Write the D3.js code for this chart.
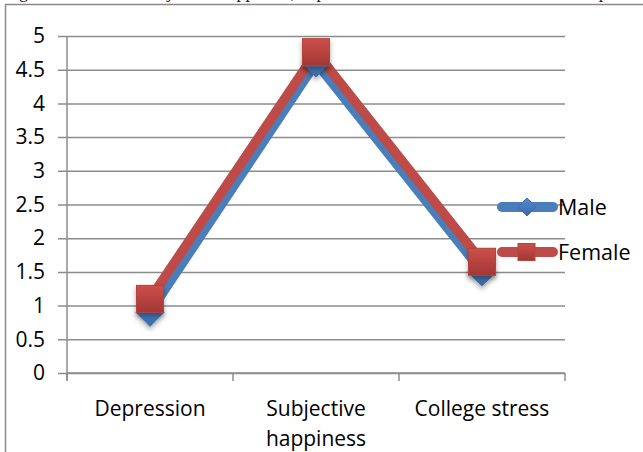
<!DOCTYPE html>
<html>
<head>
<meta charset="utf-8">
<script src="https://cdn.jsdelivr.net/npm/d3@7"></script>
<style>
  html, body { margin: 0; padding: 0; background: #fff; }
  svg { display: block; font-family: "Open Sans", "Noto Sans", sans-serif; }
</style>
</head>
<body>
<div id="chart"></div>
<script>
// data
const categories = ["Depression", "Subjective happiness", "College stress"];
const maleValues = [0.9, 4.6, 1.5];
const femaleValues = [1.1, 4.76, 1.65];
const seriesNames = ["Male", "Female"];
const yTicks = [0, 0.5, 1, 1.5, 2, 2.5, 3, 3.5, 4, 4.5, 5];
const captionText = "Figure 2: Mean of Subjective happiness, depression and stress of male and female p";

const W = 643, H = 452;
const plot = { left: 67, right: 565, top: 36, bottom: 373 };
const blue = "#4a7ebb", red = "#be4b48", grid = "#8c8c8c";

const svg = d3.select("#chart").append("svg").attr("width", W).attr("height", H);

// gradients + shadow for markers
const defs = svg.append("defs");
const gRed = defs.append("linearGradient").attr("id", "gRed").attr("x1", 0).attr("y1", 0).attr("x2", 0).attr("y2", 1);
gRed.append("stop").attr("offset", "0%").attr("stop-color", "#cd4f4b");
gRed.append("stop").attr("offset", "100%").attr("stop-color", "#a23734");
const gBlue = defs.append("linearGradient").attr("id", "gBlue").attr("x1", 0).attr("y1", 0).attr("x2", 0).attr("y2", 1);
gBlue.append("stop").attr("offset", "0%").attr("stop-color", "#5189cf");
gBlue.append("stop").attr("offset", "100%").attr("stop-color", "#3a6aa8");
const sh = defs.append("filter").attr("id", "shadow").attr("x", "-50%").attr("y", "-50%").attr("width", "200%").attr("height", "200%");
sh.append("feDropShadow").attr("dx", 0).attr("dy", 3).attr("stdDeviation", 2.5).attr("flood-color", "#000").attr("flood-opacity", 0.35);

// outer frame (cropped figure)
svg.append("line").attr("x1", 5).attr("x2", W).attr("y1", 4.5).attr("y2", 4.5).attr("stroke", "#8a8a8a").attr("stroke-width", 1.5);
svg.append("line").attr("x1", 5.5).attr("x2", 5.5).attr("y1", 4).attr("y2", H).attr("stroke", "#8a8a8a").attr("stroke-width", 1.5);
// caption above the frame: the page crop leaves only its descenders
svg.append("text").attr("x", 4).attr("y", -2).attr("font-size", 18).attr("font-family", "Liberation Serif, serif")
  .attr("fill", "#222").text(captionText);

const x = d3.scaleBand().domain(categories).range([plot.left, plot.right]).padding(0);
const y = d3.scaleLinear().domain([0, 5]).range([plot.bottom, plot.top]);

// gridlines + left ticks
svg.append("g")
  .attr("transform", `translate(${plot.right},0)`)
  .call(d3.axisLeft(y).tickValues(yTicks).tickSize(plot.right - plot.left + 9).tickFormat(""))
  .call(g => g.select(".domain").remove())
  .call(g => g.selectAll(".tick line").attr("stroke", grid).attr("stroke-width", 1.5));

// y labels
svg.append("g")
  .attr("transform", `translate(${plot.left},0)`)
  .call(d3.axisLeft(y).tickValues(yTicks).tickSize(0).tickPadding(22).tickFormat(d3.format("")))
  .call(g => g.select(".domain").remove())
  .call(g => g.selectAll("text").attr("font-size", 21).attr("fill", "#000").attr("font-family", "Open Sans, sans-serif"));

// y axis line
svg.append("line").attr("x1", plot.left).attr("x2", plot.left).attr("y1", y(5)).attr("y2", plot.bottom + 8)
  .attr("stroke", grid).attr("stroke-width", 1.5);

// x axis
const xa = svg.append("g")
  .attr("transform", `translate(0,${plot.bottom})`)
  .call(d3.axisBottom(x).tickSize(0).tickPadding(24).tickFormat(""))
  .call(g => g.select(".domain").attr("stroke", grid).attr("stroke-width", 1.5).attr("d", `M${plot.left},0H${plot.right}`));
const bounds = categories.map(c => x(c)).concat([x(categories[categories.length - 1]) + x.bandwidth()]);
xa.selectAll(".btick").data(bounds).enter().append("line")
  .attr("x1", d => d).attr("x2", d => d).attr("y1", 0).attr("y2", 8)
  .attr("stroke", grid).attr("stroke-width", 1.5);

// category labels, wrapped
const catLines = { "Subjective happiness": ["Subjective", "happiness"] };
categories.forEach(c => {
  const lines = catLines[c] || [c];
  const t = svg.append("text").attr("x", x(c) + x.bandwidth() / 2).attr("y", 416)
    .attr("text-anchor", "middle").attr("font-size", 21).attr("fill", "#000");
  lines.forEach((l, i) => t.append("tspan").attr("x", x(c) + x.bandwidth() / 2).attr("dy", i ? 30 : 0).text(l));
});

const cx = c => x(c) + x.bandwidth() / 2;
const line = d3.line().x((d, i) => cx(categories[i])).y(d => y(d));

// male series
svg.append("path").datum(maleValues).attr("d", line).attr("fill", "none")
  .attr("stroke", blue).attr("stroke-width", 9).attr("stroke-linejoin", "round");
// female series
svg.append("path").datum(femaleValues).attr("d", line).attr("fill", "none")
  .attr("stroke", red).attr("stroke-width", 9.5).attr("stroke-linejoin", "round");

const diamond = (px, py, r) => `M${px},${py - r}L${px + r},${py}L${px},${py + r}L${px - r},${py}Z`;

svg.append("g").selectAll("path").data(maleValues).enter().append("path")
  .attr("d", (d, i) => diamond(cx(categories[i]), y(d), 14))
  .attr("fill", "url(#gBlue)").attr("stroke", "#3f6fae").attr("stroke-width", 1)
  .attr("filter", "url(#shadow)");

svg.append("g").selectAll("rect").data(femaleValues).enter().append("rect")
  .attr("x", (d, i) => cx(categories[i]) - 13.5).attr("y", d => y(d) - 13.5)
  .attr("width", 27).attr("height", 27)
  .attr("fill", "url(#gRed)").attr("stroke", "#b04441").attr("stroke-width", 1)
  .attr("filter", "url(#shadow)");

// legend
const legendY = [207, 252];
const legendColors = [blue, red];
seriesNames.forEach((name, i) => {
  const ly = legendY[i];
  svg.append("line").attr("x1", 502).attr("x2", 553).attr("y1", ly).attr("y2", ly)
    .attr("stroke", legendColors[i]).attr("stroke-width", 10).attr("stroke-linecap", "round");
  if (i === 0) {
    svg.append("path").attr("d", diamond(527, ly, 9)).attr("fill", "url(#gBlue)").attr("stroke", "#3f6fae");
  } else {
    svg.append("rect").attr("x", 518).attr("y", ly - 8.5).attr("width", 17).attr("height", 17)
      .attr("fill", "url(#gRed)").attr("stroke", "#b04441");
  }
  svg.append("text").attr("x", 558).attr("y", ly).attr("dy", "0.36em")
    .attr("font-size", 21.5).attr("fill", "#000").text(name);
});
</script>
</body>
</html>
